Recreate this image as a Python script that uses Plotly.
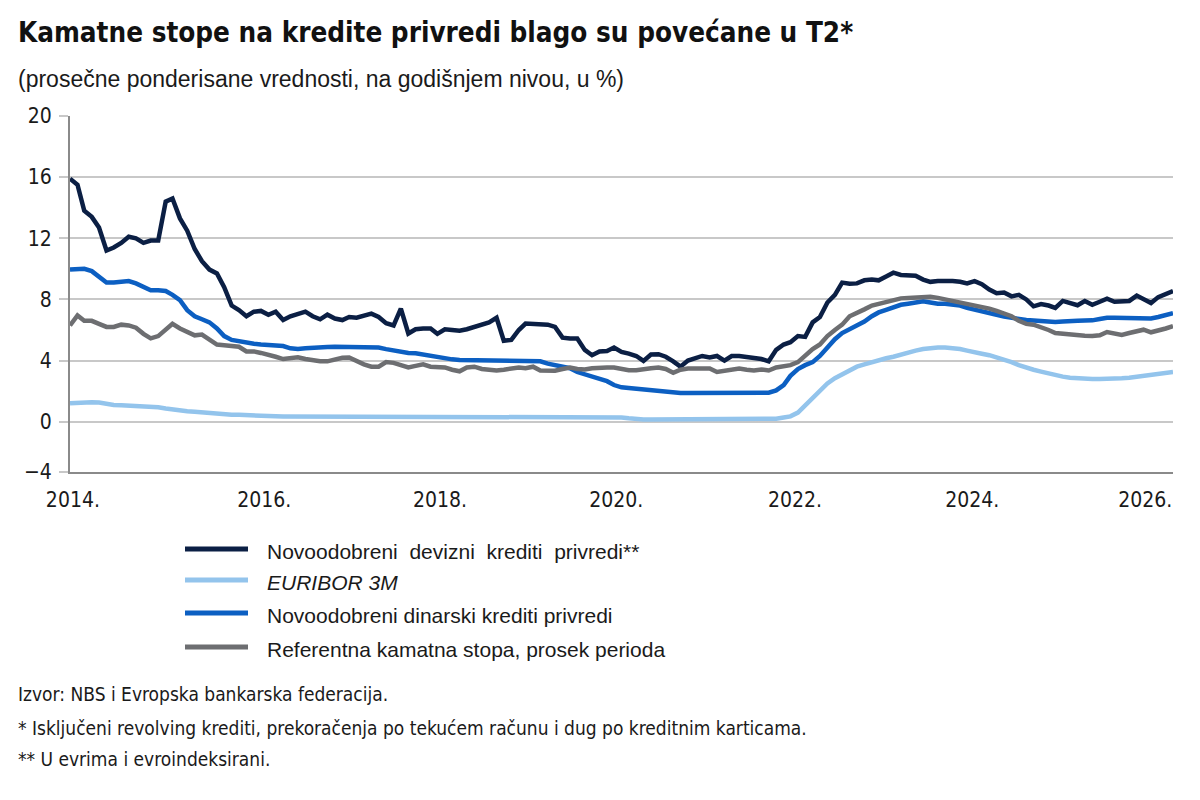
import pandas as pd
import plotly.graph_objects as go

# monthly values, Jan 2014 .. Jul 2026
devizni = [
    15.9, 15.5, 13.8, 13.4, 12.7, 11.2, 11.4, 11.7, 12.1, 12.0,
    11.7, 11.85, 11.85, 14.4, 14.6, 13.3, 12.5, 11.3, 10.5, 9.95,
    9.7, 8.8, 7.6, 7.3, 6.9, 7.2, 7.25, 7.0, 7.2, 6.65,
    6.9, 7.07, 7.2, 6.9, 6.7, 7.0, 6.75, 6.65, 6.85, 6.8,
    6.9, 7.07, 6.85, 6.45, 6.3, 7.4, 5.77, 6.05, 6.1, 6.1,
    5.75, 6.05, 6.0, 5.95, 6.05, 6.2, 6.35, 6.5, 6.8, 5.3,
    5.35, 6.0, 6.42, 6.38, 6.4, 6.35, 6.2, 5.5, 5.45, 5.44,
    4.7, 4.35, 4.6, 4.63, 4.85, 4.57, 4.45, 4.3, 3.98, 4.4,
    4.42, 4.25, 3.95, 3.6, 4.0, 4.15, 4.3, 4.2, 4.3, 4.0,
    4.3, 4.3, 4.25, 4.2, 4.1, 3.95, 4.7, 5.05, 5.2, 5.6,
    5.55, 6.5, 6.85, 7.8, 8.3, 9.1, 9.03, 9.05, 9.25, 9.3,
    9.25, 9.5, 9.75, 9.6, 9.57, 9.55, 9.3, 9.15, 9.2, 9.22,
    9.2, 9.15, 9.05, 9.2, 9.0, 8.65, 8.4, 8.45, 8.2, 8.3,
    8.0, 7.55, 7.7, 7.6, 7.45, 7.9, 7.75, 7.62, 7.9, 7.65,
    7.85, 8.05, 7.85, 7.88, 7.9, 8.25, 8.0, 7.76, 8.15, 8.35, 8.55,
]

euribor = [
    1.2, 1.25, 1.3, 1.28, 1.25, 1.15, 1.1, 1.07, 1.05, 1.0,
    0.98, 1.0, 0.95, 0.87, 0.8, 0.72, 0.68, 0.65, 0.6, 0.55,
    0.52, 0.48, 0.46, 0.45, 0.42, 0.38, 0.37, 0.36, 0.35, 0.34,
    0.34, 0.33, 0.33, 0.33, 0.33, 0.33, 0.33, 0.33, 0.33, 0.33,
    0.33, 0.33, 0.33, 0.33, 0.33, 0.33, 0.33, 0.33, 0.33, 0.33,
    0.33, 0.33, 0.33, 0.33, 0.33, 0.33, 0.33, 0.33, 0.33, 0.33,
    0.33, 0.33, 0.33, 0.33, 0.33, 0.33, 0.33, 0.33, 0.33, 0.33,
    0.33, 0.33, 0.33, 0.33, 0.32, 0.28, 0.22, 0.17, 0.15, 0.15,
    0.15, 0.15, 0.15, 0.15, 0.15, 0.15, 0.15, 0.15, 0.15, 0.15,
    0.15, 0.15, 0.15, 0.15, 0.15, 0.15, 0.2, 0.28, 0.35, 0.6,
    1.05, 1.55, 2.05, 2.5, 2.85, 3.1, 3.35, 3.6, 3.75, 3.9,
    4.02, 4.15, 4.25, 4.4, 4.55, 4.65, 4.75, 4.83, 4.85, 4.85,
    4.82, 4.75, 4.65, 4.52, 4.45, 4.35, 4.22, 4.1, 3.9, 3.7,
    3.52, 3.4, 3.28, 3.15, 3.05, 2.95, 2.88, 2.84, 2.82, 2.8,
    2.8, 2.8, 2.82, 2.85, 2.88, 2.95, 3.0, 3.1, 3.15, 3.2, 3.26,
]

dinarski = [
    9.95, 10.0, 10.0, 9.85, 9.5, 9.1, 9.1, 9.15, 9.2, 9.05,
    8.8, 8.6, 8.6, 8.55, 8.3, 7.95, 7.3, 6.9, 6.7, 6.5,
    6.1, 5.6, 5.35, 5.25, 5.15, 5.1, 5.05, 5.0, 5.0, 4.95,
    4.8, 4.75, 4.8, 4.85, 4.85, 4.88, 4.9, 4.9, 4.9, 4.9,
    4.9, 4.9, 4.85, 4.75, 4.65, 4.55, 4.5, 4.48, 4.4, 4.3,
    4.2, 4.12, 4.08, 4.04, 4.03, 4.03, 4.02, 4.02, 4.02, 4.02,
    4.02, 4.0, 4.0, 4.0, 3.95, 3.8, 3.7, 3.6, 3.5, 3.25,
    3.1, 2.95, 2.8, 2.65, 2.4, 2.25, 2.2, 2.15, 2.1, 2.1,
    2.05, 1.95, 1.9, 1.88, 1.88, 1.88, 1.88, 1.88, 1.88, 1.88,
    1.88, 1.88, 1.88, 1.88, 1.88, 1.9, 2.05, 2.4, 3.0, 3.45,
    3.7, 3.9, 4.3, 4.85, 5.4, 5.8, 6.05, 6.25, 6.55, 6.9,
    7.15, 7.32, 7.5, 7.65, 7.72, 7.8, 7.88, 7.8, 7.72, 7.72,
    7.68, 7.6, 7.45, 7.35, 7.2, 7.1, 7.0, 6.88, 6.78, 6.7,
    6.65, 6.62, 6.58, 6.55, 6.53, 6.55, 6.6, 6.6, 6.62, 6.63,
    6.72, 6.8, 6.8, 6.8, 6.8, 6.8, 6.78, 6.75, 6.85, 6.98, 7.1,
]

referentna = [
    6.3, 6.95, 6.6, 6.6, 6.4, 6.2, 6.2, 6.35, 6.3, 6.15,
    5.75, 5.45, 5.6, 6.0, 6.4, 6.1, 5.85, 5.65, 5.7, 5.4,
    5.05, 5.0, 4.95, 4.9, 4.6, 4.6, 4.5, 4.4, 4.25, 4.1,
    4.15, 4.22, 4.1, 4.02, 3.95, 3.95, 4.1, 4.18, 4.2, 3.95,
    3.75, 3.6, 3.6, 3.9, 3.85, 3.7, 3.55, 3.65, 3.75, 3.6,
    3.55, 3.55, 3.4, 3.3, 3.55, 3.6, 3.45, 3.4, 3.35, 3.4,
    3.45, 3.55, 3.5, 3.6, 3.35, 3.33, 3.33, 3.45, 3.55, 3.45,
    3.42, 3.5, 3.55, 3.55, 3.55, 3.45, 3.37, 3.37, 3.4, 3.5,
    3.55, 3.45, 3.2, 3.4, 3.48, 3.48, 3.48, 3.48, 3.25, 3.35,
    3.45, 3.48, 3.4, 3.35, 3.42, 3.35, 3.55, 3.65, 3.7, 3.9,
    4.3, 4.75, 5.05, 5.6, 6.0, 6.35, 6.9, 7.1, 7.35, 7.6,
    7.72, 7.8, 7.95, 8.07, 8.1, 8.13, 8.18, 8.18, 8.1, 8.0,
    7.92, 7.85, 7.72, 7.62, 7.5, 7.4, 7.25, 7.05, 6.9, 6.6,
    6.4, 6.35, 6.2, 6.0, 5.8, 5.74, 5.7, 5.65, 5.62, 5.6,
    5.65, 5.87, 5.75, 5.68, 5.8, 5.95, 6.02, 5.85, 5.95, 6.1, 6.25,
]

months = pd.date_range("2014-01-01", periods=len(devizni), freq="MS")

series_names = [
    "Novoodobreni\u00a0 devizni\u00a0 krediti\u00a0 privredi**",
    "<i>EURIBOR 3M</i>",
    "Novoodobreni dinarski krediti privredi",
    "Referentna kamatna stopa, prosek perioda",
]
series_values = [devizni, euribor, dinarski, referentna]
colors = ["#0b1f44", "#93c4ec", "#0c5fc2", "#6d6e71"]

x_tick_dates = ["2014-01-13", "2016-03-15", "2018-03-12", "2020-03-10",
                "2022-03-20", "2024-03-22", "2026-03-08"]
x_tick_text = ["2014.", "2016.", "2018.", "2020.", "2022.", "2024.", "2026."]
y_bottom = -3.29  # axis floor sits above -4 in the original, label still reads -4
y_tick_vals = [y_bottom, 0, 4, 8, 12, 16, 20]
y_tick_text = ["\u22124", "0", "4", "8", "12", "16", "20"]

title = "Kamatne stope na kredite privredi blago su povećane u T2*"
subtitle = "(prosečne ponderisane vrednosti, na godišnjem nivou, u %)"
notes = [
    "Izvor: NBS i Evropska bankarska federacija.",
    "* Isključeni revolving krediti, prekoračenja po tekućem računu i dug po kreditnim karticama.",
    "** U evrima i evroindeksirani.",
]

NARROW = "Liberation Sans Narrow, Arial Narrow, DejaVu Sans Condensed, sans-serif"
REG = "Liberation Sans, Arial, sans-serif"

# the page body has an 8px margin, so the figure is shrunk by that much
OFF = 8
W, H = 1200 - OFF, 800 - OFF
# plot area on the page: x 70..1173, y 116..472
L, T = 70 - OFF, 116 - OFF
R, B = W - (1173 - OFF), H - (472 - OFF)
PW, PH = W - L - R, H - T - B


def px_x(px):
    return (px - OFF - L) / PW


def px_y(py):
    return (H - B - (py - OFF)) / PH


fig = go.Figure()
for name, vals, col in zip(series_names, series_values, colors):
    fig.add_trace(go.Scatter(
        x=months, y=vals, mode="lines", name=name,
        line=dict(color=col, width=4.5), showlegend=False,
    ))

fig.update_layout(
    width=W, height=H,
    margin=dict(l=L, r=R, t=T, b=B),
    paper_bgcolor="white", plot_bgcolor="white",
    font=dict(family=REG, color="#1a1a1a"),
)
fig.update_xaxes(
    range=[months[0], months[-1]],
    tickvals=x_tick_dates, ticktext=x_tick_text,
    tickfont=dict(family=NARROW, size=21, color="#1a1a1a"),
    showgrid=False, showline=True, linecolor="#8a8a8a", linewidth=2,
    ticks="", ticklabelstandoff=8,
)
fig.update_yaxes(
    range=[y_bottom, 20],
    tickvals=y_tick_vals, ticktext=y_tick_text,
    tickfont=dict(family=NARROW, size=21, color="#1a1a1a"),
    showgrid=True, gridcolor="#c8c8c8", gridwidth=1.5,
    zeroline=False, showline=True, linecolor="#8a8a8a", linewidth=2,
    ticks="outside", ticklen=9, tickcolor="#c8c8c8", tickwidth=1.5,
    ticklabelstandoff=3,
)

# titles
fig.add_annotation(
    text=f"<b>{title}</b>", x=px_x(16), y=px_y(33), xref="paper", yref="paper",
    xanchor="left", yanchor="middle", showarrow=False,
    font=dict(family=NARROW, size=27.6, color="#111111"),
)
fig.add_annotation(
    text=subtitle, x=px_x(16), y=px_y(79), xref="paper", yref="paper",
    xanchor="left", yanchor="middle", showarrow=False,
    font=dict(family=REG, size=23, color="#1a1a1a"),
)

# legend drawn by hand so the line samples are as long as in the original
legend_rows = [549, 580, 613, 647]
for name, col, ry in zip(series_names, colors, legend_rows):
    fig.add_shape(
        type="line", xref="paper", yref="paper",
        x0=px_x(185), x1=px_x(248), y0=px_y(ry), y1=px_y(ry),
        line=dict(color=col, width=5),
    )
    fig.add_annotation(
        text=name, x=px_x(265), y=px_y(ry + 2), xref="paper", yref="paper",
        xanchor="left", yanchor="middle", showarrow=False,
        font=dict(family=REG, size=21, color="#1a1a1a"),
    )

# footnotes
for note, ny in zip(notes, [694, 728, 759]):
    fig.add_annotation(
        text=note, x=px_x(16), y=px_y(ny), xref="paper", yref="paper",
        xanchor="left", yanchor="middle", showarrow=False,
        font=dict(family=NARROW, size=19, color="#1a1a1a"),
    )

fig.write_html("out.html")
